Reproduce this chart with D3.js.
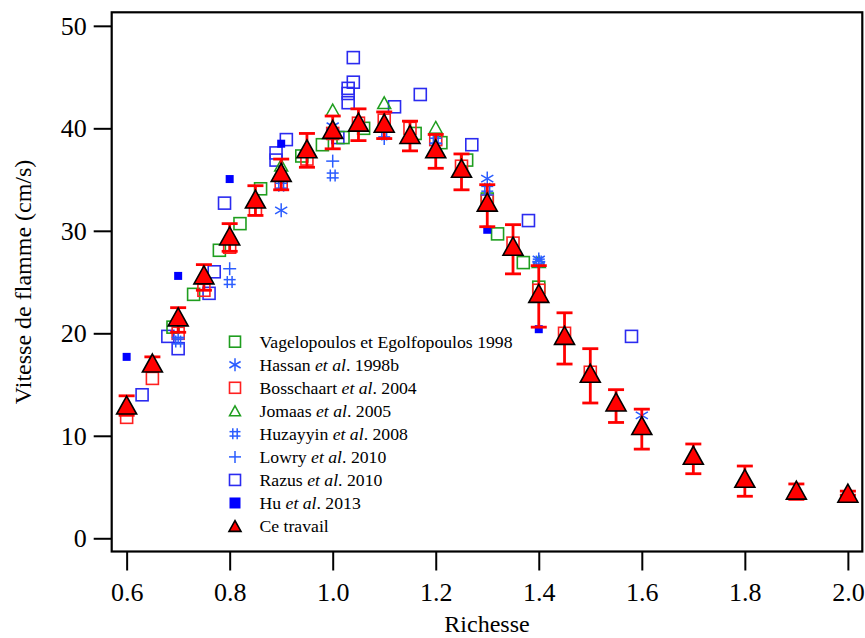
<!DOCTYPE html>
<html><head><meta charset="utf-8">
<script src="https://cdn.jsdelivr.net/npm/d3@7"></script>
<style>body{margin:0;background:#fff}svg{display:block}text{font-family:"Liberation Serif","Times New Roman",serif}</style>
</head><body><svg id="c" width="865" height="638"></svg>
<script>
// ---- data ----
const xTicks = [0.6, 0.8, 1.0, 1.2, 1.4, 1.6, 1.8, 2.0];
const yTicks = [0, 10, 20, 30, 40, 50];

const vageX = [0.69, 0.73, 0.78, 0.82, 0.86, 0.94, 0.98, 1.02, 1.06, 1.16, 1.21, 1.26, 1.30, 1.32, 1.37, 1.40];
const vageY = [20.6, 23.8, 28.1, 30.7, 34.1, 37.3, 38.4, 39.1, 40.0, 39.5, 38.6, 36.9, 33.1, 29.7, 26.9, 24.5];

const hassanX = [0.9, 1.0, 1.3, 1.4, 1.6];
const hassanY = [32.0, 40.2, 35.1, 27.2, 12.0];

const bossX = [0.6, 0.65, 0.7, 0.75, 0.8, 0.85, 0.9, 0.95, 1.0, 1.05, 1.1, 1.15, 1.2, 1.25, 1.3, 1.35, 1.4, 1.45, 1.5];
const bossY = [11.8, 15.6, 20.0, 24.2, 28.4, 32.1, 34.6, 37.0, 39.5, 40.5, 40.8, 40.0, 38.9, 36.3, 32.9, 28.8, 24.2, 20.0, 16.2];

const jomaasX = [0.9, 1.0, 1.1, 1.2, 1.4];
const jomaasY = [36.4, 41.8, 42.5, 40.1, 27.0];

const huzX = [0.7, 0.8, 0.9, 1.0, 1.1, 1.2, 1.3, 1.4];
const huzY = [19.2, 25.0, 34.4, 35.4, 39.4, 38.8, 34.1, 27.0];

const lowryX = [0.7, 0.8, 0.9, 1.0, 1.1, 1.2, 1.3, 1.4];
const lowryY = [19.6, 26.3, 35.0, 36.8, 39.0, 38.5, 33.5, 27.0];

const razusX = [0.63, 0.68, 0.70, 0.76, 0.77, 0.79, 0.89, 0.89, 0.91, 1.01, 1.03, 1.03, 1.03, 1.04, 1.04, 1.12, 1.17, 1.27, 1.38, 1.58];
const razusY = [14.0, 19.7, 18.5, 23.9, 26.0, 32.7, 37.6, 36.9, 38.9, 39.1, 42.5, 43.4, 43.9, 44.5, 46.9, 42.1, 43.3, 38.4, 31.0, 19.7];

const huX = [0.6, 0.7, 0.8, 0.9, 1.3, 1.4];
const huY = [17.7, 25.6, 35.05, 38.5, 30.1, 20.4];

const ceX = [0.6, 0.65, 0.7, 0.75, 0.8, 0.85, 0.9, 0.95, 1.0, 1.05, 1.1, 1.15, 1.2, 1.25, 1.3, 1.35, 1.4, 1.45, 1.5, 1.55, 1.6, 1.7, 1.8, 1.9, 2.0];
const ceY = [13.0, 17.1, 21.6, 25.7, 29.5, 33.1, 35.7, 38.0, 39.9, 40.6, 40.5, 39.4, 38.0, 36.1, 32.8, 28.5, 23.9, 19.8, 16.1, 13.3, 11.0, 8.1, 5.85, 4.7, 4.4];
const ceHi = [13.9, 17.7, 22.5, 26.7, 30.7, 34.4, 37.0, 39.5, 41.2, 41.9, 41.6, 40.7, 39.4, 37.5, 34.5, 30.6, 26.6, 22.0, 18.5, 14.5, 12.6, 9.2, 7.05, 5.3, 4.6];
const ceLo = [12.0, 16.5, 20.1, 24.2, 28.0, 31.5, 34.0, 36.2, 38.0, 38.8, 39.0, 37.8, 36.1, 34.0, 30.4, 25.8, 20.6, 17.0, 13.2, 11.3, 8.7, 6.3, 4.1, 3.8, 4.2];

const legendLabels = [
  [["Vagelopoulos et Egolfopoulos 1998", false]],
  [["Hassan ", false], ["et al", true], [". 1998b", false]],
  [["Bosschaart ", false], ["et al", true], [". 2004", false]],
  [["Jomaas ", false], ["et al", true], [". 2005", false]],
  [["Huzayyin ", false], ["et al", true], [". 2008", false]],
  [["Lowry ", false], ["et al", true], [". 2010", false]],
  [["Razus ", false], ["et al", true], [". 2010", false]],
  [["Hu ", false], ["et al", true], [". 2013", false]],
  [["Ce travail", false]]
];

// ---- drawing ----
const svg = d3.select("#c");
const L = 111.7, R = 862.3, T = 12.3, B = 551.5;
const x = d3.scaleLinear().domain([0.571, 2.028]).range([L, R]);
const y = d3.scaleLinear().domain([-1.29, 51.32]).range([B, T]);

const GREEN = "#1f9e1f", BLUE = "#2b2bf0", LBLUE = "#2a5cff", RED = "#ff2020";

function openSquare(g, cx, cy, s, col) {
  g.append("rect").attr("x", cx - s/2).attr("y", cy - s/2).attr("width", s).attr("height", s)
    .attr("fill", "none").attr("stroke", col).attr("stroke-width", 1.6);
}
function filledSquare(g, cx, cy, s, col) {
  g.append("rect").attr("x", cx - s/2).attr("y", cy - s/2).attr("width", s).attr("height", s).attr("fill", col);
}
function openTri(g, cx, cy, s, col) {
  const h = s * 0.9;
  g.append("path").attr("d", `M${cx},${cy - h/2}L${cx + s/2},${cy + h/2}L${cx - s/2},${cy + h/2}Z`)
    .attr("fill", "none").attr("stroke", col).attr("stroke-width", 1.5);
}
function asterisk(g, cx, cy, s, col) {
  const r = s/2;
  [90, 30, 150].forEach(a => {
    const dx = r * Math.cos(a * Math.PI/180), dy = r * Math.sin(a * Math.PI/180);
    g.append("line").attr("x1", cx - dx).attr("y1", cy - dy).attr("x2", cx + dx).attr("y2", cy + dy)
      .attr("stroke", col).attr("stroke-width", 1.5);
  });
}
function hash(g, cx, cy, s, col) {
  const r = s/2, o = s/5;
  [[-o, -r, -o, r], [o, -r, o, r], [-r, -o, r, -o], [-r, o, r, o]].forEach(d =>
    g.append("line").attr("x1", cx + d[0]).attr("y1", cy + d[1]).attr("x2", cx + d[2]).attr("y2", cy + d[3])
      .attr("stroke", col).attr("stroke-width", 1.5));
}
function plus(g, cx, cy, s, col) {
  const r = s/2;
  g.append("line").attr("x1", cx - r).attr("y1", cy).attr("x2", cx + r).attr("y2", cy).attr("stroke", col).attr("stroke-width", 1.5);
  g.append("line").attr("x1", cx).attr("y1", cy - r).attr("x2", cx).attr("y2", cy + r).attr("stroke", col).attr("stroke-width", 1.5);
}
function solidTri(g, cx, cy, s) {
  const h = s * 0.9;
  g.append("path").attr("d", `M${cx},${cy - h/2}L${cx + s/2},${cy + h/2}L${cx - s/2},${cy + h/2}Z`)
    .attr("fill", "#ff0000").attr("stroke", "#000").attr("stroke-width", 1.6).attr("stroke-linejoin", "miter");
}

const marks = svg.append("g");
function series(xs, ys, fn, s, col) {
  xs.forEach((v, i) => fn(marks, x(v), y(ys[i]), s, col));
}
series(razusX, razusY, openSquare, 12, BLUE);
series(vageX, vageY, openSquare, 12, GREEN);
series(bossX, bossY, openSquare, 12, RED);
series(jomaasX, jomaasY, openTri, 13, GREEN);
series(hassanX, hassanY, asterisk, 14, LBLUE);
series(huzX, huzY, hash, 12, LBLUE);
series(lowryX, lowryY, plus, 13, LBLUE);
series(huX, huY, filledSquare, 8, "#0000ff");

// error bars
const eb = svg.append("g").attr("stroke", "#ff0000").attr("stroke-width", 2.8);
ceX.forEach((v, i) => {
  const cx = x(v);
  eb.append("line").attr("x1", cx).attr("x2", cx).attr("y1", y(ceHi[i])).attr("y2", y(ceLo[i]));
  [ceHi[i], ceLo[i]].forEach(e =>
    eb.append("line").attr("x1", cx - 8).attr("x2", cx + 8).attr("y1", y(e)).attr("y2", y(e)));
});
const tri = svg.append("g");
ceX.forEach((v, i) => solidTri(tri, x(v), y(ceY[i]), 20));

// axes
const xAxis = d3.axisBottom(x).tickValues(xTicks).tickFormat(d3.format(".1f")).tickSize(19).tickPadding(12);
const yAxis = d3.axisLeft(y).tickValues(yTicks).tickFormat(d3.format("d")).tickSize(18).tickPadding(7);
const gx = svg.append("g").attr("transform", `translate(0,${B})`).call(xAxis);
const gy = svg.append("g").attr("transform", `translate(${L},0)`).call(yAxis);
[gx, gy].forEach(g => {
  g.attr("font-family", null);
  g.select(".domain").remove();
  g.selectAll(".tick line").attr("stroke", "#000").attr("stroke-width", 2);
  g.selectAll(".tick text").attr("fill", "#000").style("font-size", "26px")
    .style("font-family", '"Liberation Serif","Times New Roman",serif');
});
// frame
svg.append("rect").attr("x", L).attr("y", T).attr("width", R - L).attr("height", B - T)
  .attr("fill", "none").attr("stroke", "#000").attr("stroke-width", 2.2);

// axis titles
svg.append("text").attr("x", (L + R) / 2).attr("y", 632).attr("text-anchor", "middle")
  .style("font-size", "24px").text("Richesse");
svg.append("text").attr("transform", `translate(31,${(T + B) / 2}) rotate(-90)`).attr("text-anchor", "middle")
  .style("font-size", "24px").text("Vitesse de flamme (cm/s)");

// legend
const lg = svg.append("g");
const legFns = [
  g => openSquare(g, 0, 0, 11, GREEN),
  g => asterisk(g, 0, 0, 13, LBLUE),
  g => openSquare(g, 0, 0, 11, RED),
  g => openTri(g, 0, 0, 11, GREEN),
  g => hash(g, 0, 0, 11, LBLUE),
  g => plus(g, 0, 0, 12, LBLUE),
  g => openSquare(g, 0, 0, 11, BLUE),
  g => filledSquare(g, 0, 0, 11, "#0000ff"),
  g => solidTri(g, 0, 0, 12)
];
legendLabels.forEach((parts, i) => {
  const yy = 341.7 + i * 23.04;
  const sg = lg.append("g").attr("transform", `translate(235,${yy})`);
  legFns[i](sg);
  const t = lg.append("text").attr("x", 259.5).attr("y", yy + 6).style("font-size", "17.7px");
  parts.forEach(p => t.append("tspan").style("font-style", p[1] ? "italic" : "normal").text(p[0]));
});
</script></body></html>
